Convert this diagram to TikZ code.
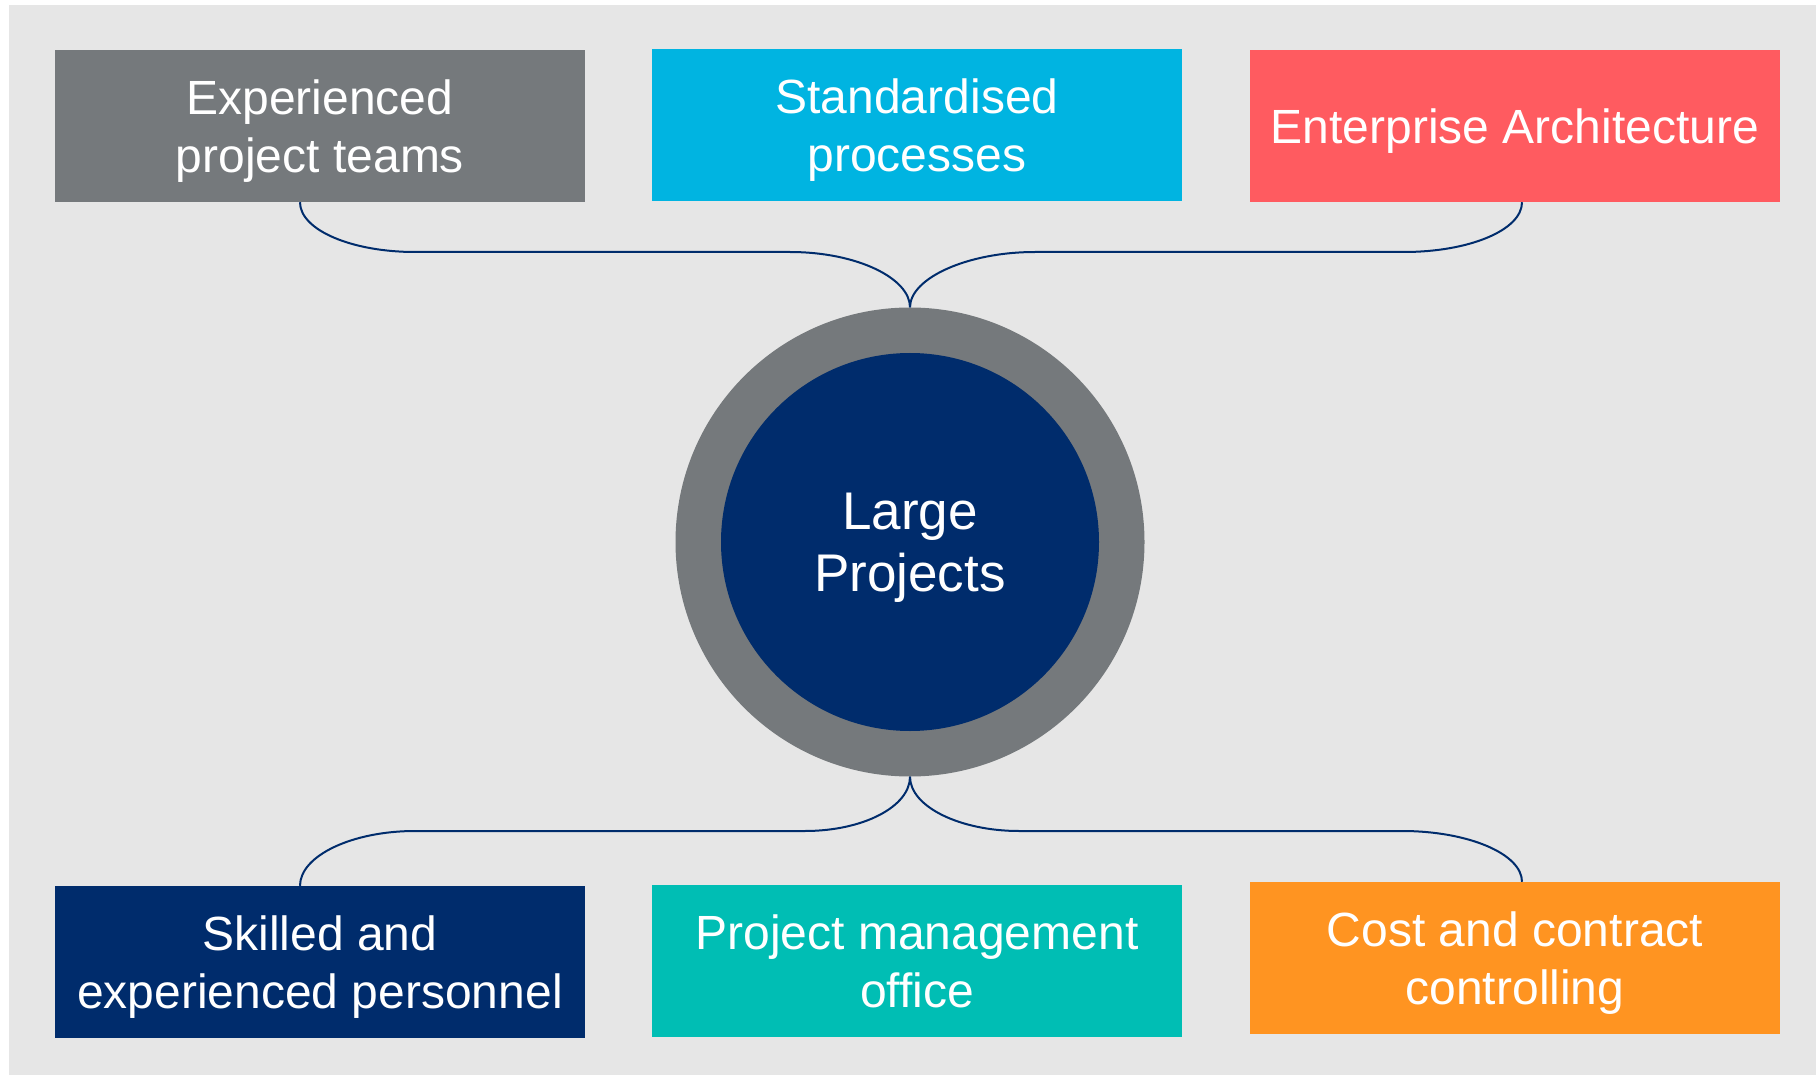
\documentclass[tikz,border=0pt]{standalone}
\usepackage{fontspec}
\usepackage{tikz}
\setmainfont{Liberation Sans}
\definecolor{bgGrey}{HTML}{E6E6E6}
\definecolor{slateGrey}{HTML}{75797C}
\definecolor{skyBlue}{HTML}{00B4E1}
\definecolor{coralRed}{HTML}{FF5B60}
\definecolor{deepNavy}{HTML}{002C6C}
\definecolor{seaTeal}{HTML}{00BEB4}
\definecolor{amberOrange}{HTML}{FF9421}

\begin{document}
\begin{tikzpicture}[
  x=1pt, y=-1pt,
  box/.style={
    rectangle, inner sep=0pt, text=white, align=center,
    minimum width=530pt, minimum height=152pt, text depth=0pt,
    font=\fontsize{48}{58}\selectfont
  },
  link/.style={draw=deepNavy, line width=2pt}
]
  \fill[white] (0,0) rectangle (1816,1075);
  \fill[bgGrey] (9,5) rectangle (1816,1075);
  \node[box, fill=slateGrey] (teams) at (320,126){Experienced\\project teams};
  \node[box, fill=skyBlue] (proc) at (917,125){Standardised\\processes};
  \node[box, fill=coralRed] (arch) at (1515,126){Enterprise Architecture};
  \node[box, fill=deepNavy] (staff) at (320,962){Skilled and\\experienced personnel};
  \node[box, fill=seaTeal] (pmo) at (917,961){Project management\\office};
  \node[box, fill=amberOrange] (cost) at (1515,958){Cost and contract\\controlling};
  \node[circle, fill=slateGrey, inner sep=0pt, minimum size=469pt] (ring) at (910,542){};
  \node[circle, fill=deepNavy, inner sep=0pt, minimum size=378pt, text=white, text depth=0pt,
    align=center, font=\fontsize{53}{62}\selectfont] (hub) at (ring.center){Large\\Projects};
  \coordinate (tl) at ([xshift=-20pt]teams.south);
  \coordinate (tr) at ([xshift=7pt]arch.south);
  \coordinate (bl) at ([xshift=-20pt]staff.north);
  \coordinate (br) at ([xshift=7pt]cost.north);
  \draw[link] (tl) .. controls +(0,28) and +(-63,0) .. (415,252) -- (790,252)
    .. controls +(67,0) and +(0,-29) .. (ring.north);
  \draw[link] (tr) .. controls +(0,28) and +(65,0) .. (1404,252) -- (1035,252)
    .. controls +(-68,0) and +(0,-29) .. (ring.north);
  \draw[link] (bl) .. controls +(0,-30) and +(-63,0) .. (415,831) -- (805,831)
    .. controls +(58,0) and +(0,30) .. (ring.south);
  \draw[link] (br) .. controls +(0,-28) and +(66,0) .. (1402,831) -- (1019,831)
    .. controls +(-59,0) and +(0,30) .. (ring.south);
\end{tikzpicture}
\end{document}
